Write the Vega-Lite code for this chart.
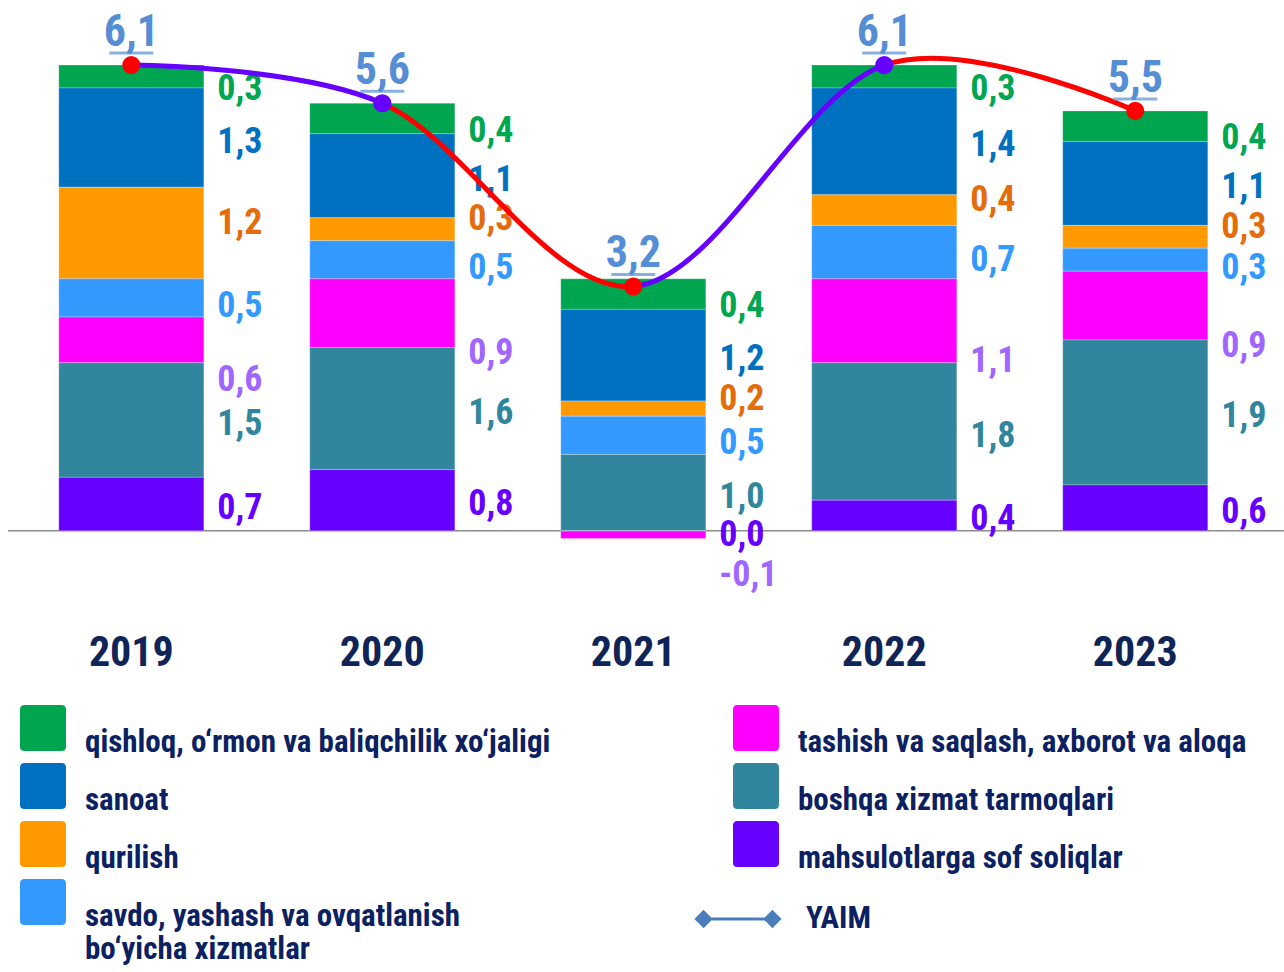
{
  "$schema": "https://vega.github.io/schema/vega-lite/v6.json",
  "autosize": {"type": "none"},
  "width": 1276,
  "height": 626,
  "padding": {"left": 8, "top": 4, "right": 0, "bottom": 342},
  "background": "white",
  "config": {
    "view": {"stroke": null},
    "font": "Roboto Condensed, sans-serif",
    "locale": {"number": {"decimal": ",", "thousands": " ", "grouping": [3], "currency": ["", ""], "minus": "-"}},
    "axis": {"grid": false}
  },
  "datasets": {
    "sectors": [
      {"year": "2019", "series": "qishloq, o‘rmon va baliqchilik xo‘jaligi", "value": 0.3},
      {"year": "2019", "series": "sanoat", "value": 1.3},
      {"year": "2019", "series": "qurilish", "value": 1.2},
      {"year": "2019", "series": "savdo, yashash va ovqatlanish bo‘yicha xizmatlar", "value": 0.5},
      {"year": "2019", "series": "tashish va saqlash, axborot va aloqa", "value": 0.6},
      {"year": "2019", "series": "boshqa xizmat tarmoqlari", "value": 1.5},
      {"year": "2019", "series": "mahsulotlarga sof soliqlar", "value": 0.7},
      {"year": "2020", "series": "qishloq, o‘rmon va baliqchilik xo‘jaligi", "value": 0.4},
      {"year": "2020", "series": "sanoat", "value": 1.1},
      {"year": "2020", "series": "qurilish", "value": 0.3},
      {"year": "2020", "series": "savdo, yashash va ovqatlanish bo‘yicha xizmatlar", "value": 0.5},
      {"year": "2020", "series": "tashish va saqlash, axborot va aloqa", "value": 0.9},
      {"year": "2020", "series": "boshqa xizmat tarmoqlari", "value": 1.6},
      {"year": "2020", "series": "mahsulotlarga sof soliqlar", "value": 0.8},
      {"year": "2021", "series": "qishloq, o‘rmon va baliqchilik xo‘jaligi", "value": 0.4},
      {"year": "2021", "series": "sanoat", "value": 1.2},
      {"year": "2021", "series": "qurilish", "value": 0.2},
      {"year": "2021", "series": "savdo, yashash va ovqatlanish bo‘yicha xizmatlar", "value": 0.5},
      {"year": "2021", "series": "tashish va saqlash, axborot va aloqa", "value": -0.1},
      {"year": "2021", "series": "boshqa xizmat tarmoqlari", "value": 1.0},
      {"year": "2021", "series": "mahsulotlarga sof soliqlar", "value": 0.0},
      {"year": "2022", "series": "qishloq, o‘rmon va baliqchilik xo‘jaligi", "value": 0.3},
      {"year": "2022", "series": "sanoat", "value": 1.4},
      {"year": "2022", "series": "qurilish", "value": 0.4},
      {"year": "2022", "series": "savdo, yashash va ovqatlanish bo‘yicha xizmatlar", "value": 0.7},
      {"year": "2022", "series": "tashish va saqlash, axborot va aloqa", "value": 1.1},
      {"year": "2022", "series": "boshqa xizmat tarmoqlari", "value": 1.8},
      {"year": "2022", "series": "mahsulotlarga sof soliqlar", "value": 0.4},
      {"year": "2023", "series": "qishloq, o‘rmon va baliqchilik xo‘jaligi", "value": 0.4},
      {"year": "2023", "series": "sanoat", "value": 1.1},
      {"year": "2023", "series": "qurilish", "value": 0.3},
      {"year": "2023", "series": "savdo, yashash va ovqatlanish bo‘yicha xizmatlar", "value": 0.3},
      {"year": "2023", "series": "tashish va saqlash, axborot va aloqa", "value": 0.9},
      {"year": "2023", "series": "boshqa xizmat tarmoqlari", "value": 1.9},
      {"year": "2023", "series": "mahsulotlarga sof soliqlar", "value": 0.6}
    ],
    "seriesOrder": [
      {"series": "mahsulotlarga sof soliqlar", "rank": 1},
      {"series": "boshqa xizmat tarmoqlari", "rank": 2},
      {"series": "tashish va saqlash, axborot va aloqa", "rank": 3},
      {"series": "savdo, yashash va ovqatlanish bo‘yicha xizmatlar", "rank": 4},
      {"series": "qurilish", "rank": 5},
      {"series": "sanoat", "rank": 6},
      {"series": "qishloq, o‘rmon va baliqchilik xo‘jaligi", "rank": 7}
    ],
    "yaim": [
      {"year": "2019", "total": 6.1},
      {"year": "2020", "total": 5.6},
      {"year": "2021", "total": 3.2},
      {"year": "2022", "total": 6.1},
      {"year": "2023", "total": 5.5}
    ]
  },
  "encoding": {
    "x": {
      "field": "year", "type": "nominal",
      "scale": {"domain": ["2019", "2020", "2021", "2022", "2023"], "paddingInner": 0.422, "paddingOuter": 0.253, "align": 0.4},
      "axis": {"title": null, "domain": false, "ticks": false, "labelAngle": 0, "labelFontSize": 42, "labelFont": "Roboto Condensed, sans-serif", "labelFontWeight": "bold", "labelColor": "#0F2557", "labelPadding": 2}
    }
  },
  "layer": [
    {
      "data": {"values": [{}]},
      "mark": {"type": "rule", "color": "#8C8C8C", "strokeWidth": 1.5},
      "encoding": {
        "x": {"value": 0},
        "x2": {"value": "width"},
        "y": {"datum": 0, "type": "quantitative", "scale": {"domain": [-1.3, 6.9], "nice": false}, "axis": null}
      }
    },
    {
      "data": {"name": "sectors"},
      "transform": [{"lookup": "series", "from": {"data": {"name": "seriesOrder"}, "key": "series", "fields": ["rank"]}}],
      "mark": {"type": "bar", "stroke": "#ffffff", "strokeWidth": 0.5, "strokeOpacity": 0.5},
      "encoding": {
        "y": {"field": "value", "type": "quantitative", "stack": "zero", "scale": {"domain": [-1.3, 6.9], "nice": false}, "axis": null},
        "order": {"field": "rank", "type": "quantitative"},
        "color": {
          "field": "series", "type": "nominal",
          "scale": {
            "domain": ["qishloq, o‘rmon va baliqchilik xo‘jaligi", "sanoat", "qurilish", "savdo, yashash va ovqatlanish bo‘yicha xizmatlar", "tashish va saqlash, axborot va aloqa", "boshqa xizmat tarmoqlari", "mahsulotlarga sof soliqlar"],
            "range": ["#00A54F", "#0070C0", "#FF9900", "#3399FF", "#FF00FF", "#31859C", "#6600FF"]
          },
          "legend": {
            "orient": "none", "legendX": 12, "legendY": 701, "columns": 2, "title": null, "padding": 0,
            "symbolType": "M -0.8 -1 L 0.8 -1 Q 1 -1 1 -0.8 L 1 0.8 Q 1 1 0.8 1 L -0.8 1 Q -1 1 -1 0.8 L -1 -0.8 Q -1 -1 -0.8 -1 Z",
            "symbolSize": 2116, "symbolStrokeWidth": 0, "symbolOpacity": 1,
            "labelFont": "Roboto Condensed, sans-serif", "labelFontSize": 31, "labelFontWeight": "bold", "labelColor": "#0B2161",
            "labelOffset": 19, "labelBaseline": "top", "labelLimit": 800, "rowPadding": 5, "columnPadding": 182,
            "labelExpr": "datum.label == 'savdo, yashash va ovqatlanish bo‘yicha xizmatlar' ? ['savdo, yashash va ovqatlanish', ' bo‘yicha xizmatlar'] : datum.label"
          }
        }
      }
    },
    {
      "data": {"name": "sectors"},
      "transform": [{"lookup": "series", "from": {"data": {"name": "seriesOrder"}, "key": "series", "fields": ["rank"]}}],
      "mark": {"type": "text", "align": "left", "baseline": "middle", "dx": 86, "dy": 4, "fontSize": 36, "fontWeight": "bold", "font": "Roboto Condensed, sans-serif"},
      "encoding": {
        "y": {"field": "value", "type": "quantitative", "stack": "zero", "bandPosition": 0.5, "scale": {"domain": [-1.3, 6.9], "nice": false}, "axis": null},
        "order": {"field": "rank", "type": "quantitative"},
        "color": {
          "field": "series", "type": "nominal",
          "scale": {
            "domain": ["qishloq, o‘rmon va baliqchilik xo‘jaligi", "sanoat", "qurilish", "savdo, yashash va ovqatlanish bo‘yicha xizmatlar", "tashish va saqlash, axborot va aloqa", "boshqa xizmat tarmoqlari", "mahsulotlarga sof soliqlar"],
            "range": ["#00A650", "#0070C0", "#E46C0A", "#3399FF", "#A066FF", "#31859C", "#6600FF"]
          },
          "legend": null
        },
        "text": {"condition": {"test": "datum.series == 'sanoat' || datum.series == 'boshqa xizmat tarmoqlari' || datum.series == 'mahsulotlarga sof soliqlar'", "field": "value", "type": "quantitative", "format": ".1f"}, "value": ""}
      }
    },
    {
      "data": {"name": "sectors"},
      "transform": [{"lookup": "series", "from": {"data": {"name": "seriesOrder"}, "key": "series", "fields": ["rank"]}}],
      "mark": {"type": "text", "align": "left", "baseline": "middle", "dx": 86, "dy": 12, "fontSize": 36, "fontWeight": "bold", "font": "Roboto Condensed, sans-serif"},
      "encoding": {
        "y": {"field": "value", "type": "quantitative", "stack": "zero", "bandPosition": 0.5, "scale": {"domain": [-1.3, 6.9], "nice": false}, "axis": null},
        "order": {"field": "rank", "type": "quantitative"},
        "color": {
          "field": "series", "type": "nominal",
          "scale": {
            "domain": ["qishloq, o‘rmon va baliqchilik xo‘jaligi", "sanoat", "qurilish", "savdo, yashash va ovqatlanish bo‘yicha xizmatlar", "tashish va saqlash, axborot va aloqa", "boshqa xizmat tarmoqlari", "mahsulotlarga sof soliqlar"],
            "range": ["#00A650", "#0070C0", "#E46C0A", "#3399FF", "#A066FF", "#31859C", "#6600FF"]
          },
          "legend": null
        },
        "text": {"condition": {"test": "datum.series == 'qishloq, o‘rmon va baliqchilik xo‘jaligi'", "field": "value", "type": "quantitative", "format": ".1f"}, "value": ""}
      }
    },
    {
      "data": {"name": "sectors"},
      "transform": [{"lookup": "series", "from": {"data": {"name": "seriesOrder"}, "key": "series", "fields": ["rank"]}}],
      "mark": {"type": "text", "align": "left", "baseline": "middle", "dx": 86, "dy": -10, "fontSize": 36, "fontWeight": "bold", "font": "Roboto Condensed, sans-serif"},
      "encoding": {
        "y": {"field": "value", "type": "quantitative", "stack": "zero", "bandPosition": 0.5, "scale": {"domain": [-1.3, 6.9], "nice": false}, "axis": null},
        "order": {"field": "rank", "type": "quantitative"},
        "color": {
          "field": "series", "type": "nominal",
          "scale": {
            "domain": ["qishloq, o‘rmon va baliqchilik xo‘jaligi", "sanoat", "qurilish", "savdo, yashash va ovqatlanish bo‘yicha xizmatlar", "tashish va saqlash, axborot va aloqa", "boshqa xizmat tarmoqlari", "mahsulotlarga sof soliqlar"],
            "range": ["#00A650", "#0070C0", "#E46C0A", "#3399FF", "#A066FF", "#31859C", "#6600FF"]
          },
          "legend": null
        },
        "text": {"condition": {"test": "datum.series == 'qurilish'", "field": "value", "type": "quantitative", "format": ".1f"}, "value": ""}
      }
    },
    {
      "data": {"name": "sectors"},
      "transform": [{"lookup": "series", "from": {"data": {"name": "seriesOrder"}, "key": "series", "fields": ["rank"]}}],
      "mark": {"type": "text", "align": "left", "baseline": "middle", "dx": 86, "dy": 8, "fontSize": 36, "fontWeight": "bold", "font": "Roboto Condensed, sans-serif"},
      "encoding": {
        "y": {"field": "value", "type": "quantitative", "stack": "zero", "bandPosition": 0.5, "scale": {"domain": [-1.3, 6.9], "nice": false}, "axis": null},
        "order": {"field": "rank", "type": "quantitative"},
        "color": {
          "field": "series", "type": "nominal",
          "scale": {
            "domain": ["qishloq, o‘rmon va baliqchilik xo‘jaligi", "sanoat", "qurilish", "savdo, yashash va ovqatlanish bo‘yicha xizmatlar", "tashish va saqlash, axborot va aloqa", "boshqa xizmat tarmoqlari", "mahsulotlarga sof soliqlar"],
            "range": ["#00A650", "#0070C0", "#E46C0A", "#3399FF", "#A066FF", "#31859C", "#6600FF"]
          },
          "legend": null
        },
        "text": {"condition": {"test": "datum.series == 'savdo, yashash va ovqatlanish bo‘yicha xizmatlar'", "field": "value", "type": "quantitative", "format": ".1f"}, "value": ""}
      }
    },
    {
      "data": {"name": "sectors"},
      "transform": [{"lookup": "series", "from": {"data": {"name": "seriesOrder"}, "key": "series", "fields": ["rank"]}}],
      "mark": {"type": "text", "align": "left", "baseline": "middle", "dx": 86, "dy": 40, "fontSize": 36, "fontWeight": "bold", "font": "Roboto Condensed, sans-serif"},
      "encoding": {
        "y": {"field": "value", "type": "quantitative", "stack": "zero", "bandPosition": 0.5, "scale": {"domain": [-1.3, 6.9], "nice": false}, "axis": null},
        "order": {"field": "rank", "type": "quantitative"},
        "color": {
          "field": "series", "type": "nominal",
          "scale": {
            "domain": ["qishloq, o‘rmon va baliqchilik xo‘jaligi", "sanoat", "qurilish", "savdo, yashash va ovqatlanish bo‘yicha xizmatlar", "tashish va saqlash, axborot va aloqa", "boshqa xizmat tarmoqlari", "mahsulotlarga sof soliqlar"],
            "range": ["#00A650", "#0070C0", "#E46C0A", "#3399FF", "#A066FF", "#31859C", "#6600FF"]
          },
          "legend": null
        },
        "text": {"condition": {"test": "datum.series == 'tashish va saqlash, axborot va aloqa'", "field": "value", "type": "quantitative", "format": ".1f"}, "value": ""}
      }
    },
    {
      "data": {"name": "yaim"},
      "mark": {
        "type": "line", "interpolate": "cardinal", "strokeWidth": 5,
        "stroke": {"gradient": "linear", "x1": 0, "y1": 0, "x2": 1, "y2": 0, "stops": [
          {"offset": 0, "color": "#6600FF"}, {"offset": 0.25, "color": "#6600FF"},
          {"offset": 0.25, "color": "#FF0000"}, {"offset": 0.5, "color": "#FF0000"},
          {"offset": 0.5, "color": "#6600FF"}, {"offset": 0.75, "color": "#6600FF"},
          {"offset": 0.75, "color": "#FF0000"}, {"offset": 1, "color": "#FF0000"}
        ]}
      },
      "encoding": {
        "y": {"field": "total", "type": "quantitative", "scale": {"domain": [-1.3, 6.9], "nice": false}, "axis": null}
      }
    },
    {
      "data": {"name": "yaim"},
      "mark": {"type": "line", "color": "#4A7EBB", "strokeWidth": 3, "strokeOpacity": 0},
      "encoding": {
        "y": {"field": "total", "type": "quantitative", "scale": {"domain": [-1.3, 6.9], "nice": false}, "axis": null},
        "strokeDash": {
          "datum": "YAIM", "type": "nominal", "scale": {"range": [[1, 0]]},
          "legend": {
            "orient": "none", "legendX": 687, "legendY": 872, "title": null, "padding": 0,
            "symbolType": "M -0.83 0 L 0.83 0 M -1 0 L -0.83 -0.17 L -0.66 0 L -0.83 0.17 Z M 0.66 0 L 0.83 -0.17 L 1 0 L 0.83 0.17 Z",
            "symbolSize": 6889, "symbolStrokeColor": "#4A7EBB", "symbolFillColor": "#4A7EBB", "symbolStrokeWidth": 3, "symbolOpacity": 1,
            "labelFont": "Roboto Condensed, sans-serif", "labelFontSize": 31, "labelFontWeight": "bold", "labelColor": "#0B2161", "labelOffset": 25
          }
        }
      }
    },
    {
      "data": {"name": "yaim"},
      "mark": {"type": "point", "filled": true, "size": 330, "opacity": 1},
      "encoding": {
        "y": {"field": "total", "type": "quantitative", "scale": {"domain": [-1.3, 6.9], "nice": false}, "axis": null},
        "color": {"field": "year", "type": "nominal", "scale": {"domain": ["2019", "2020", "2021", "2022", "2023"], "range": ["#FF0000", "#6600FF", "#FF0000", "#6600FF", "#FF0000"]}, "legend": null}
      }
    },
    {
      "data": {"name": "yaim"},
      "mark": {"type": "tick", "orient": "horizontal", "size": 44, "thickness": 3, "color": "#558ED5", "yOffset": -12},
      "encoding": {
        "y": {"field": "total", "type": "quantitative", "scale": {"domain": [-1.3, 6.9], "nice": false}, "axis": null}
      }
    },
    {
      "data": {"name": "yaim"},
      "mark": {"type": "text", "align": "center", "baseline": "alphabetic", "dy": -19, "fontSize": 44, "fontWeight": "bold", "font": "Roboto Condensed, sans-serif", "color": "#558ED5"},
      "encoding": {
        "y": {"field": "total", "type": "quantitative", "scale": {"domain": [-1.3, 6.9], "nice": false}, "axis": null},
        "text": {"field": "total", "type": "quantitative", "format": ".1f"}
      }
    }
  ],
  "resolve": {"scale": {"color": "independent"}}
}
